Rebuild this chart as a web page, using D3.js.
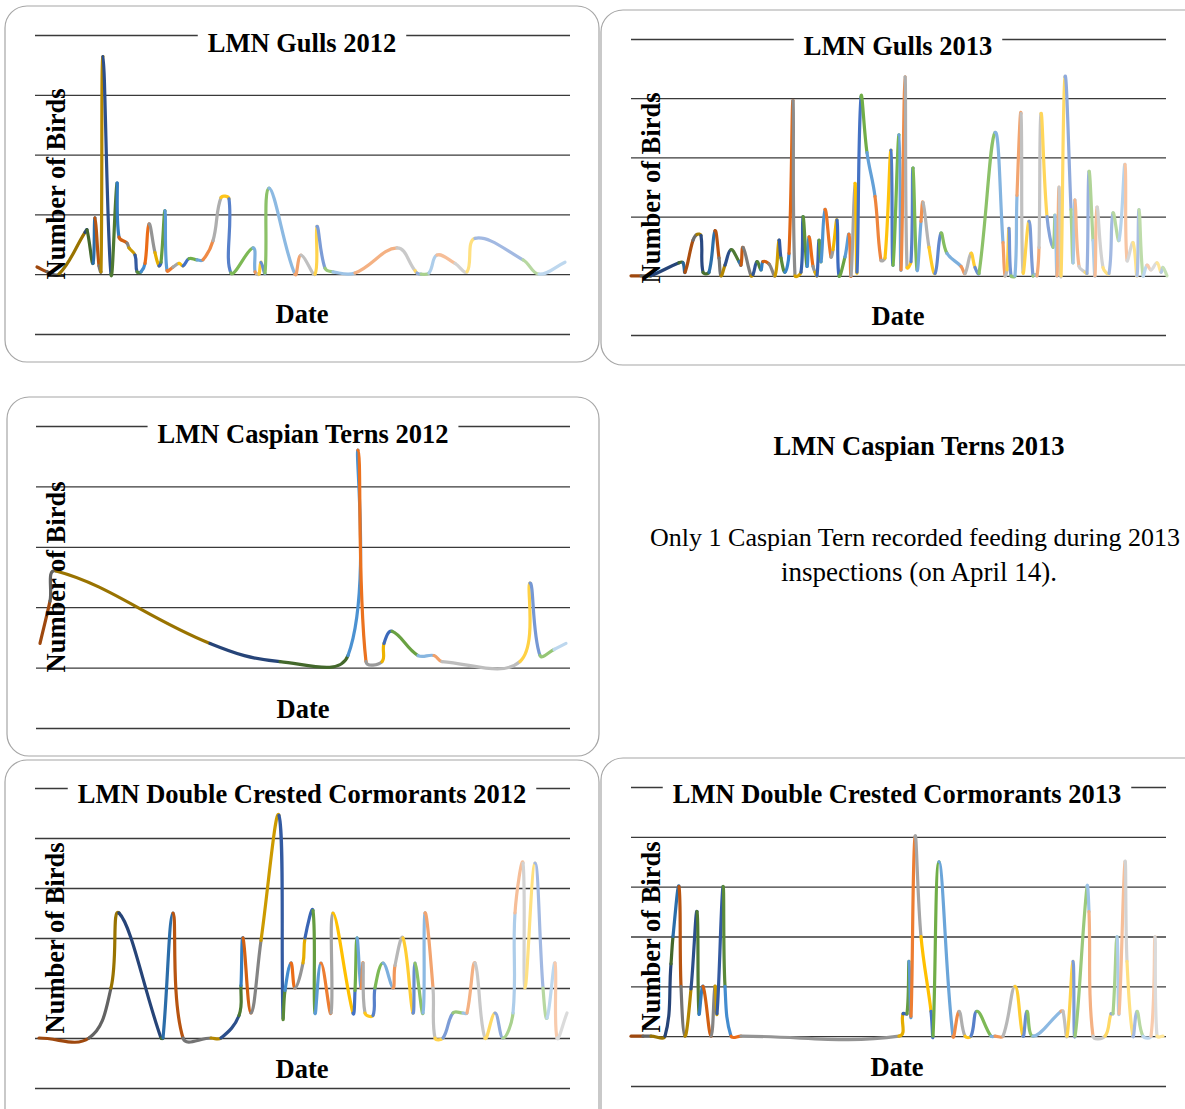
<!DOCTYPE html>
<html>
<head>
<meta charset="utf-8">
<script src="https://cdn.jsdelivr.net/npm/d3@7"></script>
<style>
  body { margin: 0; background: #fff; }
  svg { display: block; }
</style>
</head>
<body>
<svg id="chart" width="1185" height="1109"></svg>
<script>
// inspection days (offset from season start) and bird counts
const gulls2012Days = [1,6,12,25,26,29,30,32,33,34,38,41,42,46,47,50,51,53,55,57,60,62,63,65,66,69,72,74,77,81,84,89,93,97,98,109,110,111,112,113,115,117,130,133,140,141,145,149,160,181,190,191,193,197,201,210,216,220,244,252,265];
const gulls2012Counts = [6,2,0,35,37,9,47,7,2,182,0,76,31,26,22,16,2,2,9,42,18,7,10,53,3,6,9,7,13,12,12,28,64,63,1,22,2,0,0,10,1,72,0,16,0,40,5,2,1,22,3,1,0,1,16,9,2,30,12,0,10];

const gulls2013Days = [0,5,8,10,24,26,27,31,33,35,36,39,42,44,45,47,50,54,55,56,60,61,63,65,66,69,72,74,75,77,79,81,82,85,86,88,89,91,92,93,
  94,95,97,100,101,103,104,107,109,110,112,113,115,118,122,125,127,130,131,134,135,137,138,140,141,143,145,146,149,152,155,158,165,167,170,172,174,182,186,187,188,189,190,192,193,195,196,199,201,202,203,204,205,208,211,212,213,214,215,217,220,221,222,224,227,228,229,231,232,233,236,239,241,244,247,248,251,253,254,256,258,260,263,265,266,268];
const gulls2013Counts = [0,0,0,0,11,11,3,30,35,34,3,3,38,15,0,9,22,12,9,24,0,1,12,5,12,10,0,30,15,3,19,148,0,3,50,8,33,8,3,0,
  30,12,56,16,22,47,0,16,35,0,78,3,151,104,67,13,15,106,9,119,5,168,7,12,91,5,46,62,24,2,36,19,8,2,19,7,2,121,28,0,5,40,0,0,68,137,3,46,0,1,0,24,137,50,24,51,0,75,0,168,56,11,64,8,3,2,88,30,0,58,7,2,53,30,94,13,28,0,56,0,9,5,11,3,7,0];

const terns2012Days = [2,7,10,87,122,156,161,165,173,174,178,191,199,203,242,247,252,259,265];
const terns2012Counts = [4,11,16,4,1,2,36,1,1,4,6,2,2,1,1,14,2,3,4];

const cormorants2012Days = [2,27,38,42,63,64,69,74,88,93,102,103,104,108,113,122,124,125,128,130,134,135,139,140,143,148,149,159,160,161,163,164,165,169,170,174,179,180,184,189,190,194,195,199,200,204,209,214,216,220,225,230,234,239,240,244,245,250,254,256,260,261,266];
const cormorants2012Counts = [0,0,20,50,0,0,50,0,0,0,9,21,40,10,39,89,8,19,30,20,30,40,51,10,30,10,50,10,19,40,20,30,10,9,20,30,20,29,40,10,30,10,50,20,0,0,10,10,10,30,0,10,0,10,50,70,20,70,20,8,30,0,10];

const cormorants2013Days = [0,6,10,17,20,21,24,25,27,30,33,34,36,40,42,43,46,47,50,55,134,136,138,139,140,142,145,150,151,154,161,164,167,170,173,180,182,186,192,196,198,201,215,216,218,221,222,228,229,231,237,240,241,243,244,247,248,251,253,256,260,262,263,266];
const cormorants2013Counts = [0,0,0,0,29,40,60,20,0,19,50,9,20,0,20,9,60,20,0,0,0,9,9,30,8,80,40,10,0,70,0,10,0,0,10,0,0,0,20,0,10,0,10,10,0,30,0,60,50,0,0,9,9,40,9,70,30,0,10,0,0,40,0,0];

const terns2013Title = "LMN Caspian Terns 2013";
const terns2013Note = ["Only 1 Caspian Tern recorded feeding during 2013", "inspections (on April 14)."];

// segment colours cycle in this order, shaded dark -> light along the season
const palette = ["#ED7D31", "#A5A5A5", "#FFC000", "#4472C4", "#70AD47", "#5B9BD5"];
const yLabel = "Number of Birds";
const xLabel = "Date";
const spanDays = 268;

const panels = [
  { title: "LMN Gulls 2012", start: "2012-03-15", days: gulls2012Days, counts: gulls2012Counts, step: 50, top: 4,
    box: [5, 6, 594, 356], x0: 35, x1: 570, yTop: 35, yBot: 334, cx: 302, titleY: 52, dateY: 323, labX: 65, labY: 184 },
  { title: "LMN Gulls 2013", start: "2013-03-15", days: gulls2013Days, counts: gulls2013Counts, step: 50, top: 4,
    box: [601, 10, 610, 355], x0: 631, x1: 1166, yTop: 39, yBot: 335, cx: 898, titleY: 55, dateY: 325, labX: 660, labY: 188 },
  { title: "LMN Caspian Terns 2012", start: "2012-03-15", days: terns2012Days, counts: terns2012Counts, step: 10, top: 4,
    box: [7, 397, 592, 359], x0: 36, x1: 570, yTop: 426, yBot: 728, cx: 303, titleY: 443, dateY: 718, labX: 65, labY: 577 },
  { title: "LMN Double Crested Cormorants 2012", start: "2012-03-15", days: cormorants2012Days, counts: cormorants2012Counts, step: 20, top: 5,
    box: [5, 760, 594, 380], x0: 35, x1: 570, yTop: 788, yBot: 1088, cx: 302, titleY: 803, dateY: 1078, labX: 64, labY: 938 },
  { title: "LMN Double Crested Cormorants 2013", start: "2013-03-15", days: cormorants2013Days, counts: cormorants2013Counts, step: 20, top: 5,
    box: [601, 758, 610, 380], x0: 631, x1: 1166, yTop: 787, yBot: 1086, cx: 897, titleY: 803, dateY: 1076, labX: 660, labY: 937 }
];

const font = "'Liberation Serif', 'Times New Roman', serif";
const smooth = 0.4;
const svg = d3.select("#chart");

// office-style luminance shift: negative darkens, positive lightens
function shade(c, s) {
  const h = d3.hsl(c);
  h.l = s < 0 ? h.l * (1 + s) : h.l + (1 - h.l) * s;
  return h.formatHex();
}

panels.forEach(p => {
  const g = svg.append("g");
  const [bx, by, bw, bh] = p.box;
  g.append("rect")
    .attr("x", bx).attr("y", by).attr("width", bw).attr("height", bh)
    .attr("rx", 22).attr("ry", 22)
    .attr("fill", "#fff").attr("stroke", "#a6a6a6").attr("stroke-width", 1.2);

  const start = d3.utcParse("%Y-%m-%d")(p.start);
  const x = d3.scaleUtc()
    .domain([start, d3.utcDay.offset(start, spanDays)])
    .range([p.x0, p.x0 + spanDays * 2]);
  const y = d3.scaleLinear()
    .domain([-p.step, p.top * p.step])
    .range([p.yBot, p.yTop]);

  // gridlines
  g.append("g")
    .attr("transform", `translate(${p.x0},0)`)
    .call(d3.axisLeft(y)
      .tickValues(d3.range(-1, p.top + 1).map(k => k * p.step))
      .tickSize(-(p.x1 - p.x0))
      .tickFormat(""))
    .call(a => a.select(".domain").remove())
    .selectAll("line")
    .attr("stroke", "#3a3a3a")
    .attr("stroke-width", 1.3);

  // title over the top gridline
  const tbox = g.append("rect").attr("fill", "#fff");
  const title = g.append("text")
    .attr("x", p.cx).attr("y", p.titleY)
    .attr("text-anchor", "middle")
    .style("font-family", font).style("font-weight", "bold").style("font-size", "26.5px")
    .text(p.title);
  const bb = title.node().getBBox();
  tbox.attr("x", bb.x - 10).attr("y", bb.y).attr("width", bb.width + 20).attr("height", bb.height);

  // smoothed line, one coloured piece per interval
  const pts = p.days.map((d, i) => [x(d3.utcDay.offset(start, d)), y(p.counts[i])]);
  const n = pts.length;
  const groups = Math.ceil(n / 6);
  const dist = (a, b) => Math.hypot(b[0] - a[0], b[1] - a[1]);
  const segs = d3.range(n - 1).map(i => {
    const p0 = pts[Math.max(i - 1, 0)], p1 = pts[i], p2 = pts[i + 1], p3 = pts[Math.min(i + 2, n - 1)];
    const d01 = dist(p0, p1), d12 = dist(p1, p2), d23 = dist(p2, p3);
    const k1 = d01 + d12 > 0 ? smooth * d12 / (d01 + d12) : 0;
    const k2 = d12 + d23 > 0 ? smooth * d12 / (d12 + d23) : 0;
    const path = d3.path();
    path.moveTo(p1[0], p1[1]);
    path.bezierCurveTo(
      p1[0] + (p2[0] - p0[0]) * k1, p1[1] + (p2[1] - p0[1]) * k1,
      p2[0] - (p3[0] - p1[0]) * k2, p2[1] - (p3[1] - p1[1]) * k2,
      p2[0], p2[1]);
    const grp = Math.floor((i + 1) / 6);
    const s = -0.4 + (groups > 1 ? grp / (groups - 1) : 0) * 1.0;
    return { d: path.toString(), color: shade(palette[i % 6], s) };
  });

  g.append("g").selectAll("path")
    .data(segs)
    .join("path")
    .attr("d", d => d.d)
    .attr("fill", "none")
    .attr("stroke", d => d.color)
    .attr("stroke-width", 3.2)
    .attr("stroke-linecap", "round");

  g.append("text")
    .attr("x", p.cx).attr("y", p.dateY)
    .attr("text-anchor", "middle")
    .style("font-family", font).style("font-weight", "bold").style("font-size", "26.5px")
    .text(xLabel);

  g.append("text")
    .attr("transform", `translate(${p.labX},${p.labY}) rotate(-90)`)
    .attr("text-anchor", "middle")
    .style("font-family", font).style("font-weight", "bold").style("font-size", "26.5px")
    .text(yLabel);
});

// Caspian Terns 2013: text only
svg.append("text")
  .attr("x", 919).attr("y", 455)
  .attr("text-anchor", "middle")
  .style("font-family", font).style("font-weight", "bold").style("font-size", "26.5px")
  .text(terns2013Title);

svg.append("g").selectAll("text")
  .data(terns2013Note)
  .join("text")
  .attr("x", (d, i) => i === 0 ? 915 : 919)
  .attr("y", (d, i) => 546 + i * 35)
  .attr("text-anchor", "middle")
  .style("font-family", font)
  .style("font-size", (d, i) => i === 0 ? "26px" : "27px")
  .text(d => d);
</script>
</body>
</html>
